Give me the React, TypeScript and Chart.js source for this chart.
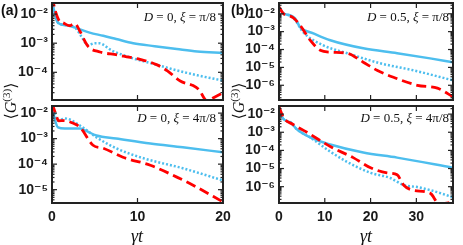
import React, { useEffect, useRef } from "react";
import { Chart, registerables } from "chart.js";
Chart.register(...registerables);

const BLUE = "rgb(77,190,238)";
const RED = "rgb(255,0,0)";
const SANS = "'Liberation Sans', Arial, 'DejaVu Sans', sans-serif";
const SERIF = "'Liberation Serif', 'DejaVu Serif', 'Times New Roman', serif";

// ---------- Panel (a) top: D = 0, xi = pi/8 ----------
const tA1Solid = [0, 0.3, 0.6, 1, 1.5, 2, 3, 4.4, 6, 7.5, 9.5, 12, 14.6, 17, 20];
const gA1Solid = [2.5e-2, 1.12e-2, 5.6e-3, 4.5e-3, 4.2e-3, 4.0e-3, 3.2e-3, 2.3e-3, 1.8e-3, 1.4e-3, 1.0e-3, 7.9e-4, 6.3e-4, 5.2e-4, 4.7e-4];
const tA1Dot = [0, 0.3, 0.6, 1, 1.5, 2, 2.8, 3.5, 4.2, 5, 5.5, 7, 9.5, 12, 14.6, 17, 20];
const gA1Dot = [2.5e-2, 1.12e-2, 5.6e-3, 4.5e-3, 4.2e-3, 4.0e-3, 3.2e-3, 1.6e-3, 8.5e-4, 1.0e-3, 1.0e-3, 5.6e-4, 3.0e-4, 1.9e-4, 1.17e-4, 7.9e-5, 5.2e-5];
const tA1Red = [0, 0.4, 0.9, 1.3, 2, 2.7, 3.2, 4.2, 5.6, 7.6, 9, 10.3, 12.3, 13.5, 15, 16.5, 17.2, 18.1, 19, 20];
const gA1Red = [4.0e-2, 1.26e-2, 5.6e-3, 5.0e-3, 4.0e-3, 4.7e-3, 2.8e-3, 7.9e-4, 5.0e-4, 4.0e-4, 3.3e-4, 2.8e-4, 1.8e-4, 1.12e-4, 5.0e-5, 3.5e-5, 2.5e-5, 1.07e-5, 1.4e-5, 2.0e-5];

// ---------- Panel (a) bottom: D = 0, xi = 4pi/8 ----------
const tA2Solid = [0, 0.3, 0.7, 1.5, 3.3, 4, 5.2, 7.5, 11.5, 15.3, 20];
const gA2Solid = [2.0e-2, 6.3e-3, 2.75e-3, 2.5e-3, 2.5e-3, 2.0e-3, 1.32e-3, 1.02e-3, 6.5e-4, 4.6e-4, 2.9e-4];
const tA2Dot = [0, 0.3, 0.7, 1.5, 3.3, 5.2, 7.5, 10.7, 15.3, 20];
const gA2Dot = [2.0e-2, 1.0e-2, 5.0e-3, 6.2e-3, 3.2e-3, 1.12e-3, 4.2e-4, 1.7e-4, 6.9e-5, 2.3e-5];
const tA2Red = [0, 0.4, 0.8, 1.3, 2.5, 3.3, 4.8, 6, 8.3, 11.5, 14.6, 16.5, 20];
const gA2Red = [2.5e-2, 1.0e-2, 5.0e-3, 5.1e-3, 4.0e-3, 2.75e-3, 5.5e-4, 4.2e-4, 1.86e-4, 9.1e-5, 3.1e-5, 1.5e-5, 3.3e-6];

// ---------- Panel (b) top: D = 0.5, xi = pi/8 ----------
const tB1Solid = [0, 0.9, 2.4, 3.5, 4.6, 7.5, 11.2, 18.4, 25.8, 33, 38];
const gB1Solid = [2.4e-2, 1.07e-2, 8.3e-3, 5.6e-3, 1.8e-3, 8.1e-4, 3.3e-4, 1.17e-4, 6.2e-5, 3.2e-5, 1.95e-5];
const tB1Dot = [0, 0.9, 2.4, 3.5, 5.3, 9.6, 14.9, 22.1, 29.3, 38];
const gB1Dot = [2.4e-2, 1.07e-2, 7.9e-3, 4.5e-3, 9.3e-4, 1.74e-4, 6.2e-5, 1.7e-5, 6.9e-6, 1.9e-6];
const tB1Red = [0, 1, 3, 4.6, 6.8, 9, 11.2, 14.9, 18.4, 21.4, 25, 30.2, 34.6, 37.4, 38];
const gB1Red = [2.4e-2, 1.0e-2, 6.3e-3, 2.3e-3, 3.3e-4, 9.1e-5, 7.1e-5, 6.2e-5, 1.95e-5, 6.9e-6, 2.8e-6, 1.0e-6, 6.9e-7, 2.8e-7, 2.2e-7];

// ---------- Panel (b) bottom: D = 0.5, xi = 4pi/8 ----------
const tB2Solid = [0, 0.8, 1.7, 2.5, 3.9, 6.8, 11.2, 18.4, 25.8, 38];
const gB2Solid = [2.5e-2, 6.3e-3, 4.1e-3, 3.5e-3, 1.45e-3, 5.2e-4, 2.1e-4, 7.6e-5, 4.0e-5, 1.1e-5];
const tB2Dot = [0, 0.8, 1.7, 2.5, 3.9, 6.8, 11.2, 14.9, 20, 24.3, 27.2, 30.2, 33, 38];
const gB2Dot = [2.5e-2, 6.3e-3, 4.1e-3, 3.5e-3, 1.45e-3, 5.2e-4, 8.5e-5, 2.3e-5, 5.8e-6, 3.0e-6, 1.23e-6, 9.5e-7, 6.5e-7, 2.6e-7];
const tB2Red = [0, 1, 3, 6.1, 11.2, 16.2, 20, 23.6, 25.8, 27.2, 29.1, 33, 35, 38];
const gB2Red = [2.5e-2, 6.3e-3, 2.75e-3, 1.0e-3, 1.62e-4, 4.0e-5, 1.1e-5, 5.8e-6, 4.5e-6, 1.23e-6, 6.5e-7, 4.4e-7, 1.12e-7, 1.4e-7];

// ---------- axes ----------
const xTicksA = [0, 10, 20];
const xLabelsA = ["0", "10", "20"];
const xTicksB = [0, 10, 20, 30];
const xLabelsB = ["0", "10", "20", "30"];
const yTicksA1 = [1e-2, 1e-3, 1e-4];
const yLabelsA1 = ["10⁻²", "10⁻³", "10⁻⁴"];
const yTicksA2 = [1e-2, 1e-3, 1e-4, 1e-5];
const yLabelsA2 = ["10⁻²", "10⁻³", "10⁻⁴", "10⁻⁵"];
const yTicksB = [1e-2, 1e-3, 1e-4, 1e-5, 1e-6];
const yLabelsB = ["10⁻²", "10⁻³", "10⁻⁴", "10⁻⁵", "10⁻⁶"];

const framePlugin = {
  id: "frame",
  afterDraw(chart: any) {
    const { ctx, chartArea } = chart;
    const { left, right, top, bottom } = chartArea;
    const y = chart.scales.y;
    const x = chart.scales.x;
    ctx.save();
    ctx.strokeStyle = "#222";
    ctx.lineWidth = 1.2;
    const line = (x1: number, y1: number, x2: number, y2: number) => {
      ctx.beginPath();
      ctx.moveTo(x1, y1);
      ctx.lineTo(x2, y2);
      ctx.stroke();
    };
    const eMin = Math.floor(Math.log10(y.min));
    const eMax = Math.ceil(Math.log10(y.max));
    for (let e = eMin; e <= eMax; e++) {
      for (let k = 1; k <= 9; k++) {
        const v = k * Math.pow(10, e);
        if (v < y.min || v > y.max) continue;
        const py = y.getPixelForValue(v);
        const len = k === 1 ? 5 : 2.5;
        line(left, py, left + len, py);
        line(right, py, right - len, py);
      }
    }
    for (let v = 10; v < x.max; v += 10) {
      const px = x.getPixelForValue(v);
      line(px, bottom, px, bottom - 5);
      line(px, top, px, top + 5);
    }
    ctx.lineWidth = 2;
    ctx.strokeRect(left, top, right - left, bottom - top);
    ctx.restore();
  },
};

type Series = { t: number[]; g: number[]; color: string; dash: number[]; width: number };
type PanelSpec = {
  left: number; top: number; width: number; height: number;
  padTop: number; padRight: number; yWidth: number; xHeight: number;
  xMax: number; yMin: number; yMax: number; showX: boolean;
  xTicks: number[]; xLabels: string[]; yTicks: number[]; yLabels: string[];
  series: Series[];
};

function Panel(p: PanelSpec) {
  const ref = useRef<HTMLCanvasElement>(null);
  useEffect(() => {
    const chart = new Chart(ref.current as HTMLCanvasElement, {
      type: "line",
      data: {
        datasets: p.series.map((s) => ({
          data: s.t.map((x, i) => ({ x, y: s.g[i] })),
          borderColor: s.color,
          borderWidth: s.width,
          borderDash: s.dash,
          borderCapStyle: "butt",
          pointRadius: 0,
          fill: false,
          cubicInterpolationMode: "monotone",
        })),
      } as any,
      options: {
        animation: false,
        responsive: false,
        maintainAspectRatio: false,
        devicePixelRatio: 1,
        layout: { padding: { top: p.padTop, right: p.padRight, left: 0, bottom: 0 } },
        plugins: { legend: { display: false }, tooltip: { enabled: false } },
        scales: {
          x: {
            type: "linear",
            min: 0,
            max: p.xMax,
            grid: { display: false, drawTicks: false },
            border: { display: false },
            afterBuildTicks: (s: any) => { s.ticks = p.xTicks.map((v) => ({ value: v })); },
            afterFit: (s: any) => {
              s.height = p.xHeight;
              s.paddingLeft = 0; s.paddingRight = 0; s.paddingTop = 0; s.paddingBottom = 0;
            },
            ticks: {
              display: p.showX,
              padding: 6,
              maxRotation: 0,
              autoSkip: false,
              color: "#1a1a1a",
              font: { family: SANS, size: 14, weight: "bold" },
              callback: (_v: any, i: number) => p.xLabels[i],
            },
          },
          y: {
            type: "logarithmic",
            min: p.yMin,
            max: p.yMax,
            grid: { display: false, drawTicks: false },
            border: { display: false },
            afterBuildTicks: (s: any) => { s.ticks = p.yTicks.map((v) => ({ value: v })); },
            afterFit: (s: any) => {
              s.width = p.yWidth;
              s.paddingLeft = 0; s.paddingRight = 0; s.paddingTop = 0; s.paddingBottom = 0;
            },
            ticks: {
              padding: 4,
              autoSkip: false,
              color: "#1a1a1a",
              font: { family: SANS, size: 14, weight: "bold" },
              callback: (_v: any, i: number) => p.yLabels[i],
            },
          },
        },
      } as any,
      plugins: [framePlugin],
    });
    return () => chart.destroy();
  }, []);
  return (
    <canvas
      ref={ref}
      width={p.width}
      height={p.height}
      style={{ position: "absolute", left: p.left, top: p.top, width: p.width, height: p.height }}
    />
  );
}

const solid: number[] = [];
const dotted = [2, 2];
const dashed = [10, 5];

function Ann({ x, y, children }: any) {
  return (
    <div
      style={{
        position: "absolute",
        left: x,
        top: y,
        transform: "translate(-100%, -50%)",
        whiteSpace: "nowrap",
        fontFamily: SERIF,
        fontSize: 13,
        color: "#111",
        lineHeight: 1,
      }}
    >
      {children}
    </div>
  );
}

function YLabel({ x, y }: { x: number; y: number }) {
  return (
    <div
      style={{
        position: "absolute",
        left: x,
        top: y,
        transform: "translate(-50%, -50%) rotate(-90deg)",
        whiteSpace: "nowrap",
        fontFamily: SERIF,
        fontSize: 16,
        color: "#111",
        lineHeight: 1,
      }}
    >
      ⟨<i>G</i>
      <sup style={{ fontSize: 11 }}>(3)</sup>⟩
    </div>
  );
}

function XLabel({ x, y }: { x: number; y: number }) {
  return (
    <div
      style={{
        position: "absolute",
        left: x,
        top: y,
        transform: "translate(-50%, -50%)",
        whiteSpace: "nowrap",
        fontFamily: SERIF,
        fontStyle: "italic",
        fontSize: 18,
        color: "#111",
        lineHeight: 1,
      }}
    >
      γt
    </div>
  );
}

export default function App() {
  const W = 2.5;
  return (
    <div style={{ position: "fixed", left: 0, top: 0, width: 463, height: 245, background: "#fff", overflow: "hidden" }}>
      <Panel
        left={0} top={0} width={235} height={104} padTop={3} padRight={12} yWidth={52} xHeight={4}
        xMax={20} yMin={1.12e-5} yMax={2.4e-2} showX={false}
        xTicks={xTicksA} xLabels={xLabelsA} yTicks={yTicksA1} yLabels={yLabelsA1}
        series={[
          { t: tA1Red, g: gA1Red, color: RED, dash: dashed, width: 2.8 },
          { t: tA1Dot, g: gA1Dot, color: BLUE, dash: dotted, width: W },
          { t: tA1Solid, g: gA1Solid, color: BLUE, dash: solid, width: W },
        ]}
      />
      <Panel
        left={0} top={104} width={235} height={141} padTop={2} padRight={12} yWidth={52} xHeight={42}
        xMax={20} yMin={3.0e-6} yMax={1.9e-2} showX={true}
        xTicks={xTicksA} xLabels={xLabelsA} yTicks={yTicksA2} yLabels={yLabelsA2}
        series={[
          { t: tA2Red, g: gA2Red, color: RED, dash: dashed, width: 2.8 },
          { t: tA2Dot, g: gA2Dot, color: BLUE, dash: dotted, width: W },
          { t: tA2Solid, g: gA2Solid, color: BLUE, dash: solid, width: W },
        ]}
      />
      <Panel
        left={230} top={0} width={233} height={104} padTop={3} padRight={10} yWidth={49} xHeight={4}
        xMax={38} yMin={1.5e-7} yMax={4.0e-2} showX={false}
        xTicks={xTicksB} xLabels={xLabelsB} yTicks={yTicksB} yLabels={yLabelsB}
        series={[
          { t: tB1Red, g: gB1Red, color: RED, dash: dashed, width: 2.8 },
          { t: tB1Dot, g: gB1Dot, color: BLUE, dash: dotted, width: W },
          { t: tB1Solid, g: gB1Solid, color: BLUE, dash: solid, width: W },
        ]}
      />
      <Panel
        left={230} top={104} width={233} height={141} padTop={2} padRight={10} yWidth={49} xHeight={42}
        xMax={38} yMin={1.26e-7} yMax={2.8e-2} showX={true}
        xTicks={xTicksB} xLabels={xLabelsB} yTicks={yTicksB} yLabels={yLabelsB}
        series={[
          { t: tB2Red, g: gB2Red, color: RED, dash: dashed, width: 2.8 },
          { t: tB2Dot, g: gB2Dot, color: BLUE, dash: dotted, width: W },
          { t: tB2Solid, g: gB2Solid, color: BLUE, dash: solid, width: W },
        ]}
      />

      <div style={{ position: "absolute", left: 1, top: 3, fontFamily: SANS, fontWeight: "bold", fontSize: 14, lineHeight: 1, color: "#111" }}>(a)</div>
      <div style={{ position: "absolute", left: 231, top: 3, fontFamily: SANS, fontWeight: "bold", fontSize: 14, lineHeight: 1, color: "#111" }}>(b)</div>

      <Ann x={216} y={16}><i>D</i> = 0, <i>ξ</i> = π/8</Ann>
      <Ann x={216} y={117}><i>D</i> = 0, <i>ξ</i> = 4π/8</Ann>
      <Ann x={449} y={16}><i>D</i> = 0.5, <i>ξ</i> = π/8</Ann>
      <Ann x={449} y={117}><i>D</i> = 0.5, <i>ξ</i> = 4π/8</Ann>

      <YLabel x={10} y={101} />
      <YLabel x={238} y={101} />

      <XLabel x={137} y={236} />
      <XLabel x={366} y={236} />
    </div>
  );
}
